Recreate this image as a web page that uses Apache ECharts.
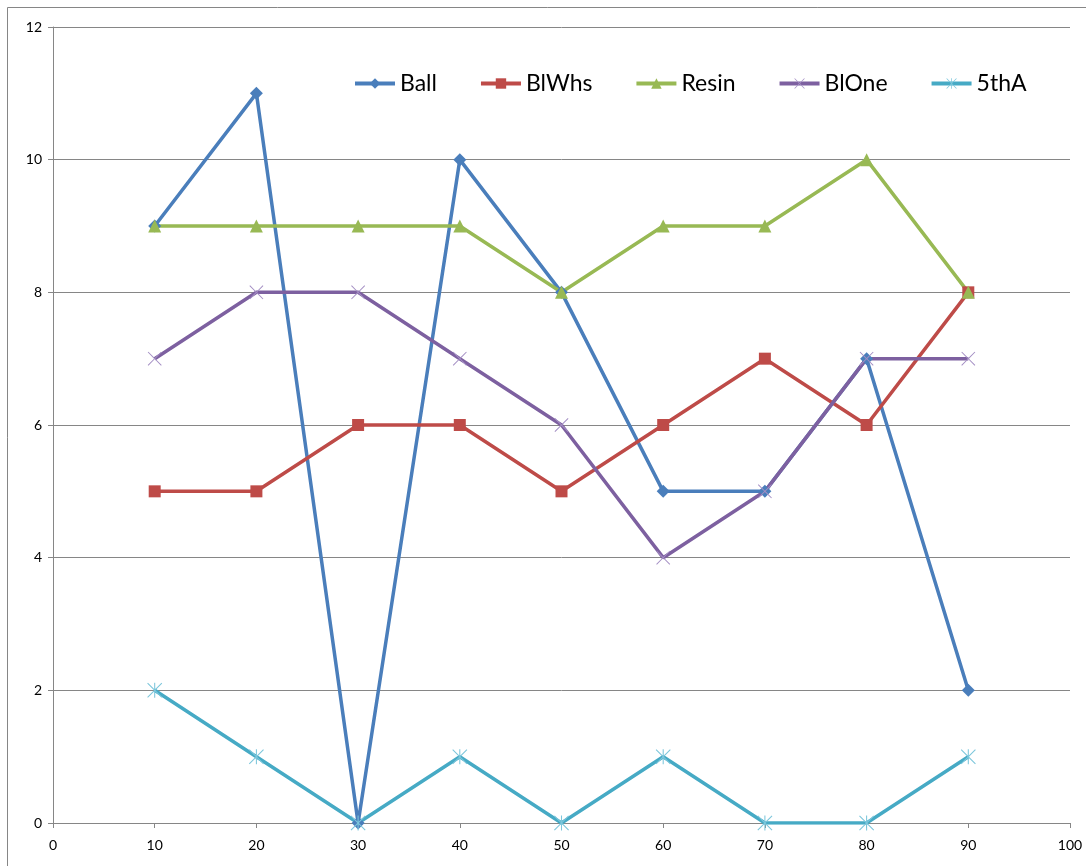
<!DOCTYPE html>
<html>
<head>
<meta charset="utf-8">
<script src="https://cdn.jsdelivr.net/npm/echarts@6/dist/echarts.min.js"></script>
<style>
  html, body { margin: 0; padding: 0; background: #fff; }
  #chart { width: 1086px; height: 866px; }
</style>
</head>
<body>
<div id="chart"></div>
<script>
// x positions
const xValues = [10, 20, 30, 40, 50, 60, 70, 80, 90];
// series values
const ball = [9, 11, 0, 10, 8, 5, 5, 7, 2];
const blWhs = [5, 5, 6, 6, 5, 6, 7, 6, 8];
const resin = [9, 9, 9, 9, 8, 9, 9, 10, 8];
const blOne = [7, 8, 8, 7, 6, 4, 5, 7, 7];
const fifthA = [2, 1, 0, 1, 0, 1, 0, 0, 1];

const font = 'Lato, "Open Sans", sans-serif';

// 叉号和星号标记
const xMark = 'path://M0,1 L1,0 L10,9 L19,0 L20,1 L11,10 L20,19 L19,20 L10,11 L1,20 L0,19 L9,10 Z';
const starMark = 'path://M0,1 L1,0 L10,9 L19,0 L20,1 L11,10 L20,19 L19,20 L10,11 L1,20 L0,19 L9,10 Z M9.3,0 L10.7,0 L10.7,20 L9.3,20 Z';

const toPairs = (arr) => arr.map((v, i) => [xValues[i], v]);

const mkSeries = (name, data, color, markColor, symbol, size) => ({
  name: name,
  type: 'line',
  data: toPairs(data),
  symbol: symbol,
  symbolSize: size,
  showSymbol: true,
  lineStyle: { color: color, width: 3.5 },
  itemStyle: { color: markColor },
  emphasis: { disabled: true },
});

const myChart = echarts.init(document.getElementById('chart'));
const option = {
  animation: false,
  graphic: [
    {
      type: 'rect',
      shape: { x: 7.5, y: 7.5, width: 1090, height: 870 },
      style: { fill: 'none', stroke: '#868686', lineWidth: 1 },
      silent: true,
    },
  ],
  legend: {
    left: 348,
    top: 67,
    itemWidth: 40,
    itemHeight: 13,
    itemGap: 42,
    lineStyle: { width: 4 },
    textStyle: { fontFamily: font, fontSize: 23, color: '#000' },
    data: ['Ball', 'BlWhs', 'Resin', 'BlOne', '5thA'],
  },
  grid: { left: 53, right: 16, top: 27, bottom: 43 },
  xAxis: {
    type: 'value',
    min: 0,
    max: 100,
    interval: 10,
    axisLine: { show: true, lineStyle: { color: '#868686', width: 1 } },
    axisTick: { show: true, length: 5, lineStyle: { color: '#868686' } },
    axisLabel: { color: '#000', fontFamily: font, fontSize: 14, margin: 15 },
    splitLine: { show: false },
  },
  yAxis: {
    type: 'value',
    min: 0,
    max: 12,
    interval: 2,
    axisLine: { show: true, lineStyle: { color: '#868686', width: 1 } },
    axisTick: { show: true, length: 5, lineStyle: { color: '#868686' } },
    axisLabel: { color: '#000', fontFamily: font, fontSize: 14, margin: 11 },
    splitLine: { show: true, lineStyle: { color: '#868686', width: 1 } },
  },
  series: [
    mkSeries('Ball', ball, '#4A7EBB', '#4A7EBB', 'diamond', 13),
    mkSeries('BlWhs', blWhs, '#BE4B48', '#BE4B48', 'rect', 12),
    mkSeries('Resin', resin, '#98B954', '#98B954', 'triangle', 13),
    mkSeries('BlOne', blOne, '#7D60A0', '#A48FC4', xMark, 14),
    mkSeries('5thA', fifthA, '#46AAC5', '#7CC6DB', starMark, 15),
  ],
};
myChart.setOption(option);
</script>
</body>
</html>
